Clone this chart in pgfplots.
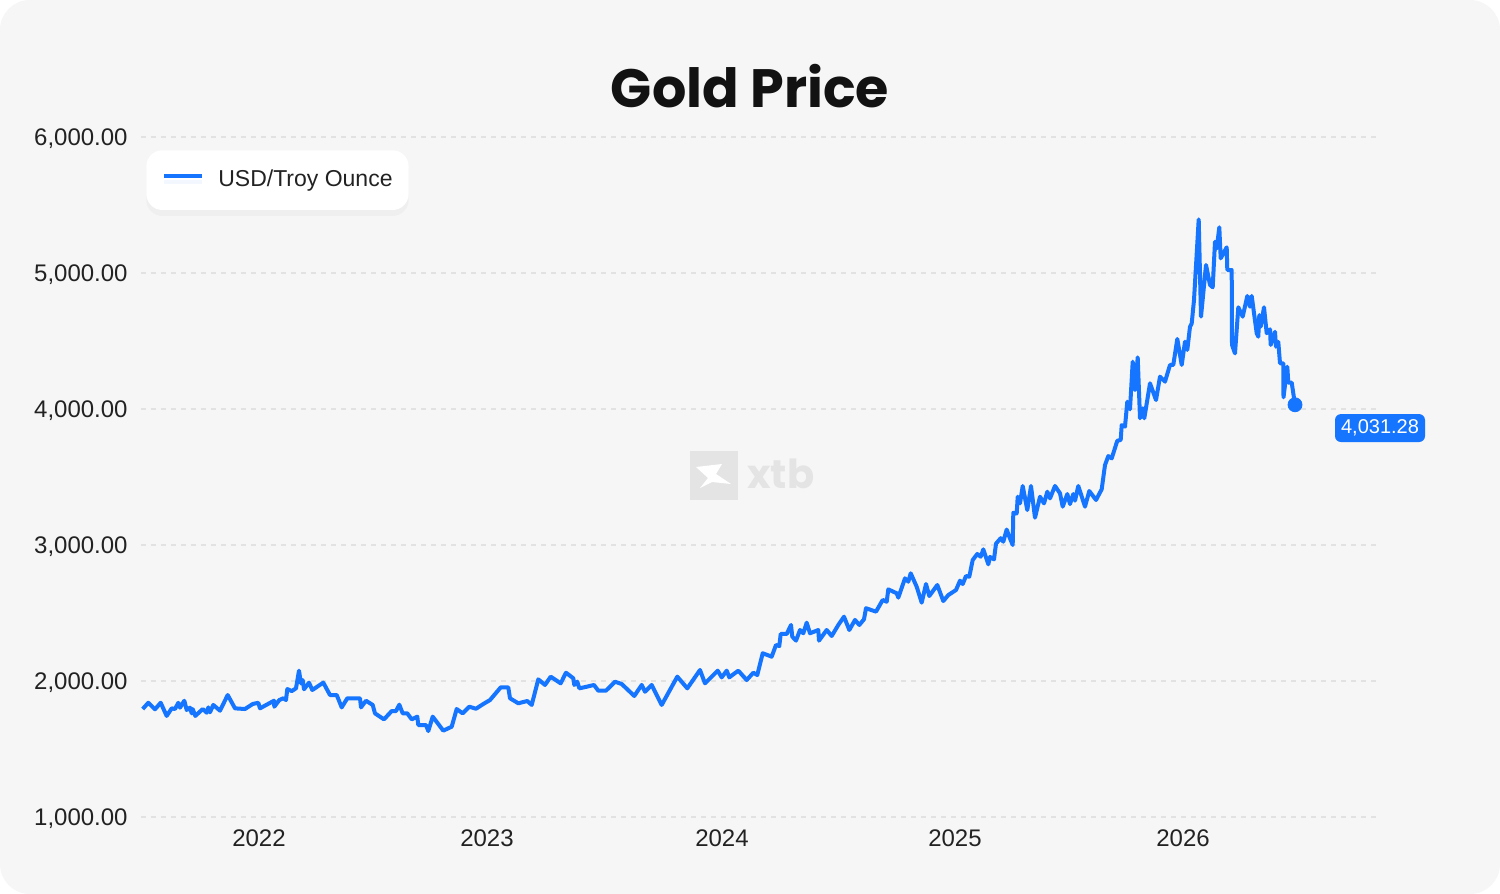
\documentclass[border=0pt]{standalone}
\usepackage{pgfplots}
\pgfplotsset{compat=1.18}
\usepackage{fontspec}
\setmainfont{Liberation Sans}
\newfontfamily\poppins{Poppins}
\usetikzlibrary{shadows}
\definecolor{xblue}{HTML}{1575FF}
\definecolor{bggrey}{HTML}{F6F6F6}
\definecolor{gridgrey}{HTML}{E2E2E2}
\definecolor{ticktext}{HTML}{222222}
\definecolor{wm}{HTML}{E4E4E4}
\begin{document}
\begin{tikzpicture}[x=0.5pt,y=-0.5pt]
\fill[white] (0,0) rectangle (1500,894);
\fill[bggrey, rounded corners=15pt] (0,0) rectangle (1500,894);
\node[font=\poppins\bfseries\fontsize{27}{32}\selectfont, text=black!93] at (750,86) {Gold Price};
% watermark
\fill[wm] (690,451) rectangle (738,500);
\fill[white] (696,467) -- (722,464) -- (716,474) -- (731,484) -- (712,482) -- (700,488) -- (708,478) -- cycle;
\node[font=\poppins\bfseries\fontsize{20}{24}\selectfont, text=wm, anchor=base west, inner sep=0pt] at (747,488) {xtb};
\begin{axis}[
  at={(70.5pt,-408.5pt)}, anchor=south west,
  scale only axis, width=619pt, height=340pt,
  xmin=141, xmax=1379, ymin=1000, ymax=6000,
  axis line style={draw=none}, major tick length=0pt,
  ytick={1000,2000,3000,4000,5000,6000},
  yticklabel={\pgfmathprintnumber[fixed,fixed zerofill,precision=2,1000 sep={,},assume math mode=true]{\tick}},
  xtick={259,487,722,955,1183},
  xticklabels={2022,2023,2024,2025,2026},
  tick label style={font=\fontsize{12}{14}\selectfont, text=ticktext, inner sep=0pt},
  yticklabel style={yshift=-1pt},
  yticklabel shift=6.5pt, xticklabel shift=6pt,
  ymajorgrids, grid style={gridgrey, line width=1pt, dash pattern=on 2.5pt off 2.5pt},
  clip=false,
  legend style={at={(0.004,0.981)}, anchor=north west, draw=none, fill=white,
    rounded corners=8pt, inner xsep=8pt, inner ysep=10pt,
    font=\fontsize{11.5}{13}\selectfont, text=ticktext,
    nodes={inner sep=0pt, yshift=-1pt}, column sep=7pt,
    drop shadow={opacity=0.05, shadow xshift=0pt, shadow yshift=-3pt}},
  legend image code/.code={\draw[#1, line width=2pt] (0pt,1pt) -- (19pt,1pt);},
]
\addplot[xblue, line width=2pt, line join=round] coordinates {
(142.7,1794) (148.3,1840) (155,1792) (160.7,1840) (166.7,1743) (171.7,1799)
(175,1794) (178.3,1840) (180,1804) (184.3,1855) (186.7,1787) (190,1804)
(191.7,1762) (192.7,1794) (195.3,1743) (202.7,1794) (206.7,1767) (208.3,1806)
(210,1770) (213.3,1824) (220,1782) (227.7,1897) (235,1799) (245,1794)
(252.7,1831) (258.3,1840) (260,1799) (274,1855) (274.3,1811) (279.3,1860)
(283.3,1873) (286,1860) (287.3,1941) (291.7,1926) (296,1946) (299,2076)
(301,1983) (302.7,2007) (304,1939) (309,1988) (312.3,1934) (323.3,1988)
(330,1897) (336.7,1897) (341.7,1806) (347.3,1873) (360,1873) (361,1806)
(366,1855) (372.7,1824) (375,1762) (384,1718) (391.7,1779) (396,1779)
(399.3,1826) (402.7,1762) (407.3,1762) (411.7,1718) (417.3,1738) (418.3,1676)
(426,1676) (428.3,1632) (432.7,1738) (443.3,1635) (451.7,1664) (456.7,1794)
(462.7,1762) (469.3,1811) (476,1796) (483.3,1831) (490,1860) (500.7,1953)
(508.3,1953) (510,1873) (518.3,1836) (527.3,1853) (531.7,1824) (538.3,2012)
(545,1971) (550.7,2032) (560.7,1983) (566,2061) (573.3,2020) (574.3,1971)
(577.3,1995) (579.3,1946) (586.7,1958) (594,1971) (598.3,1929) (606,1929)
(615,1995) (621.7,1978) (634.3,1890) (641.7,1971) (645,1921) (651.7,1971)
(661.7,1824) (677.3,2032) (687.3,1946) (700,2081) (705,1983) (717.7,2076)
(721.7,2027) (726.7,2076) (729.3,2027) (738.3,2076) (746.7,2007) (753.3,2061)
(757.3,2044) (762.7,2204) (771.7,2179) (776,2265) (779.3,2257) (780.7,2346)
(786.7,2346) (791,2412) (792.3,2326) (796,2297) (800,2375) (803.3,2351)
(806.7,2429) (810,2351) (818.3,2375) (819,2297) (826.7,2375) (831.7,2331)
(838.3,2412) (844,2473) (849.3,2375) (855,2449) (859.3,2412) (864,2454)
(866,2535) (876,2510) (882.7,2596) (886.7,2583) (888.3,2674) (896.7,2645)
(898.3,2613) (905,2755) (908.3,2730) (910.7,2792) (916.7,2693) (921.7,2576)
(926,2713) (929.3,2625) (937.3,2706) (943.3,2588) (948.3,2632) (956,2669)
(960,2738) (962.7,2713) (966,2772) (969.3,2767) (972.7,2890) (977.3,2934)
(980.7,2914) (983.3,2968) (988.3,2858) (990,2912) (994,2894) (996,3010)
(1000.7,3050) (1003.3,3024) (1006.7,3114) (1009.3,3061) (1012.7,3000) (1013.3,3237)
(1016.7,3232) (1017.7,3355) (1020,3306) (1022.7,3434) (1027.3,3257) (1031,3434)
(1035,3201) (1040,3355) (1044,3306) (1047.3,3392) (1050,3343) (1055,3434)
(1060,3380) (1062.7,3282) (1067.3,3375) (1070,3301) (1073.3,3375) (1075,3326)
(1078.3,3434) (1085,3282) (1089.3,3397) (1096,3331) (1101.7,3410) (1105,3588)
(1108.3,3654) (1111.7,3637) (1117.3,3767) (1120.7,3772) (1121.7,3882) (1125,3870)
(1127.3,4054) (1130,3998) (1132.7,4348) (1135,4140) (1137.7,4380) (1140,3932)
(1142.7,4005) (1144.3,3932) (1150,4189) (1156,4066) (1160,4238) (1165,4201)
(1170,4324) (1173.3,4324) (1177.3,4515) (1181.7,4324) (1185,4495) (1187.3,4434)
(1190,4605) (1191.7,4629) (1194,4801) (1198.7,5394) (1201,4679) (1206,5059)
(1210,4912) (1212.7,4895) (1215,5230) (1216.7,5181) (1219.3,5336) (1220.7,5108)
(1226.7,5189) (1227.3,5022) (1231.7,5022) (1232,4471) (1235,4409) (1238.3,4748)
(1242.7,4679) (1247.3,4831) (1250,4752) (1251.7,4831) (1256.7,4557) (1258.3,4532)
(1259.3,4691) (1260.7,4605) (1264,4748) (1266.7,4557) (1270,4586) (1270.7,4471)
(1275,4568) (1276,4458) (1278.3,4493) (1280,4336) (1283.3,4336) (1283.5,4086)
(1287.3,4311) (1288.3,4194) (1291.7,4194) (1295,4031.28)
};
\addlegendentry{USD/Troy Ounce}
\addplot[only marks, mark=*, mark size=3.5pt, xblue, forget plot] coordinates {(1295,4031.28)};
\node[fill=xblue, rounded corners=3pt, text=white, font=\fontsize{10}{12}\selectfont,
  minimum width=45pt, minimum height=14pt, inner sep=0pt] at (axis cs:1380,3860) {4,031.28};
\end{axis}
\end{tikzpicture}
\end{document}
